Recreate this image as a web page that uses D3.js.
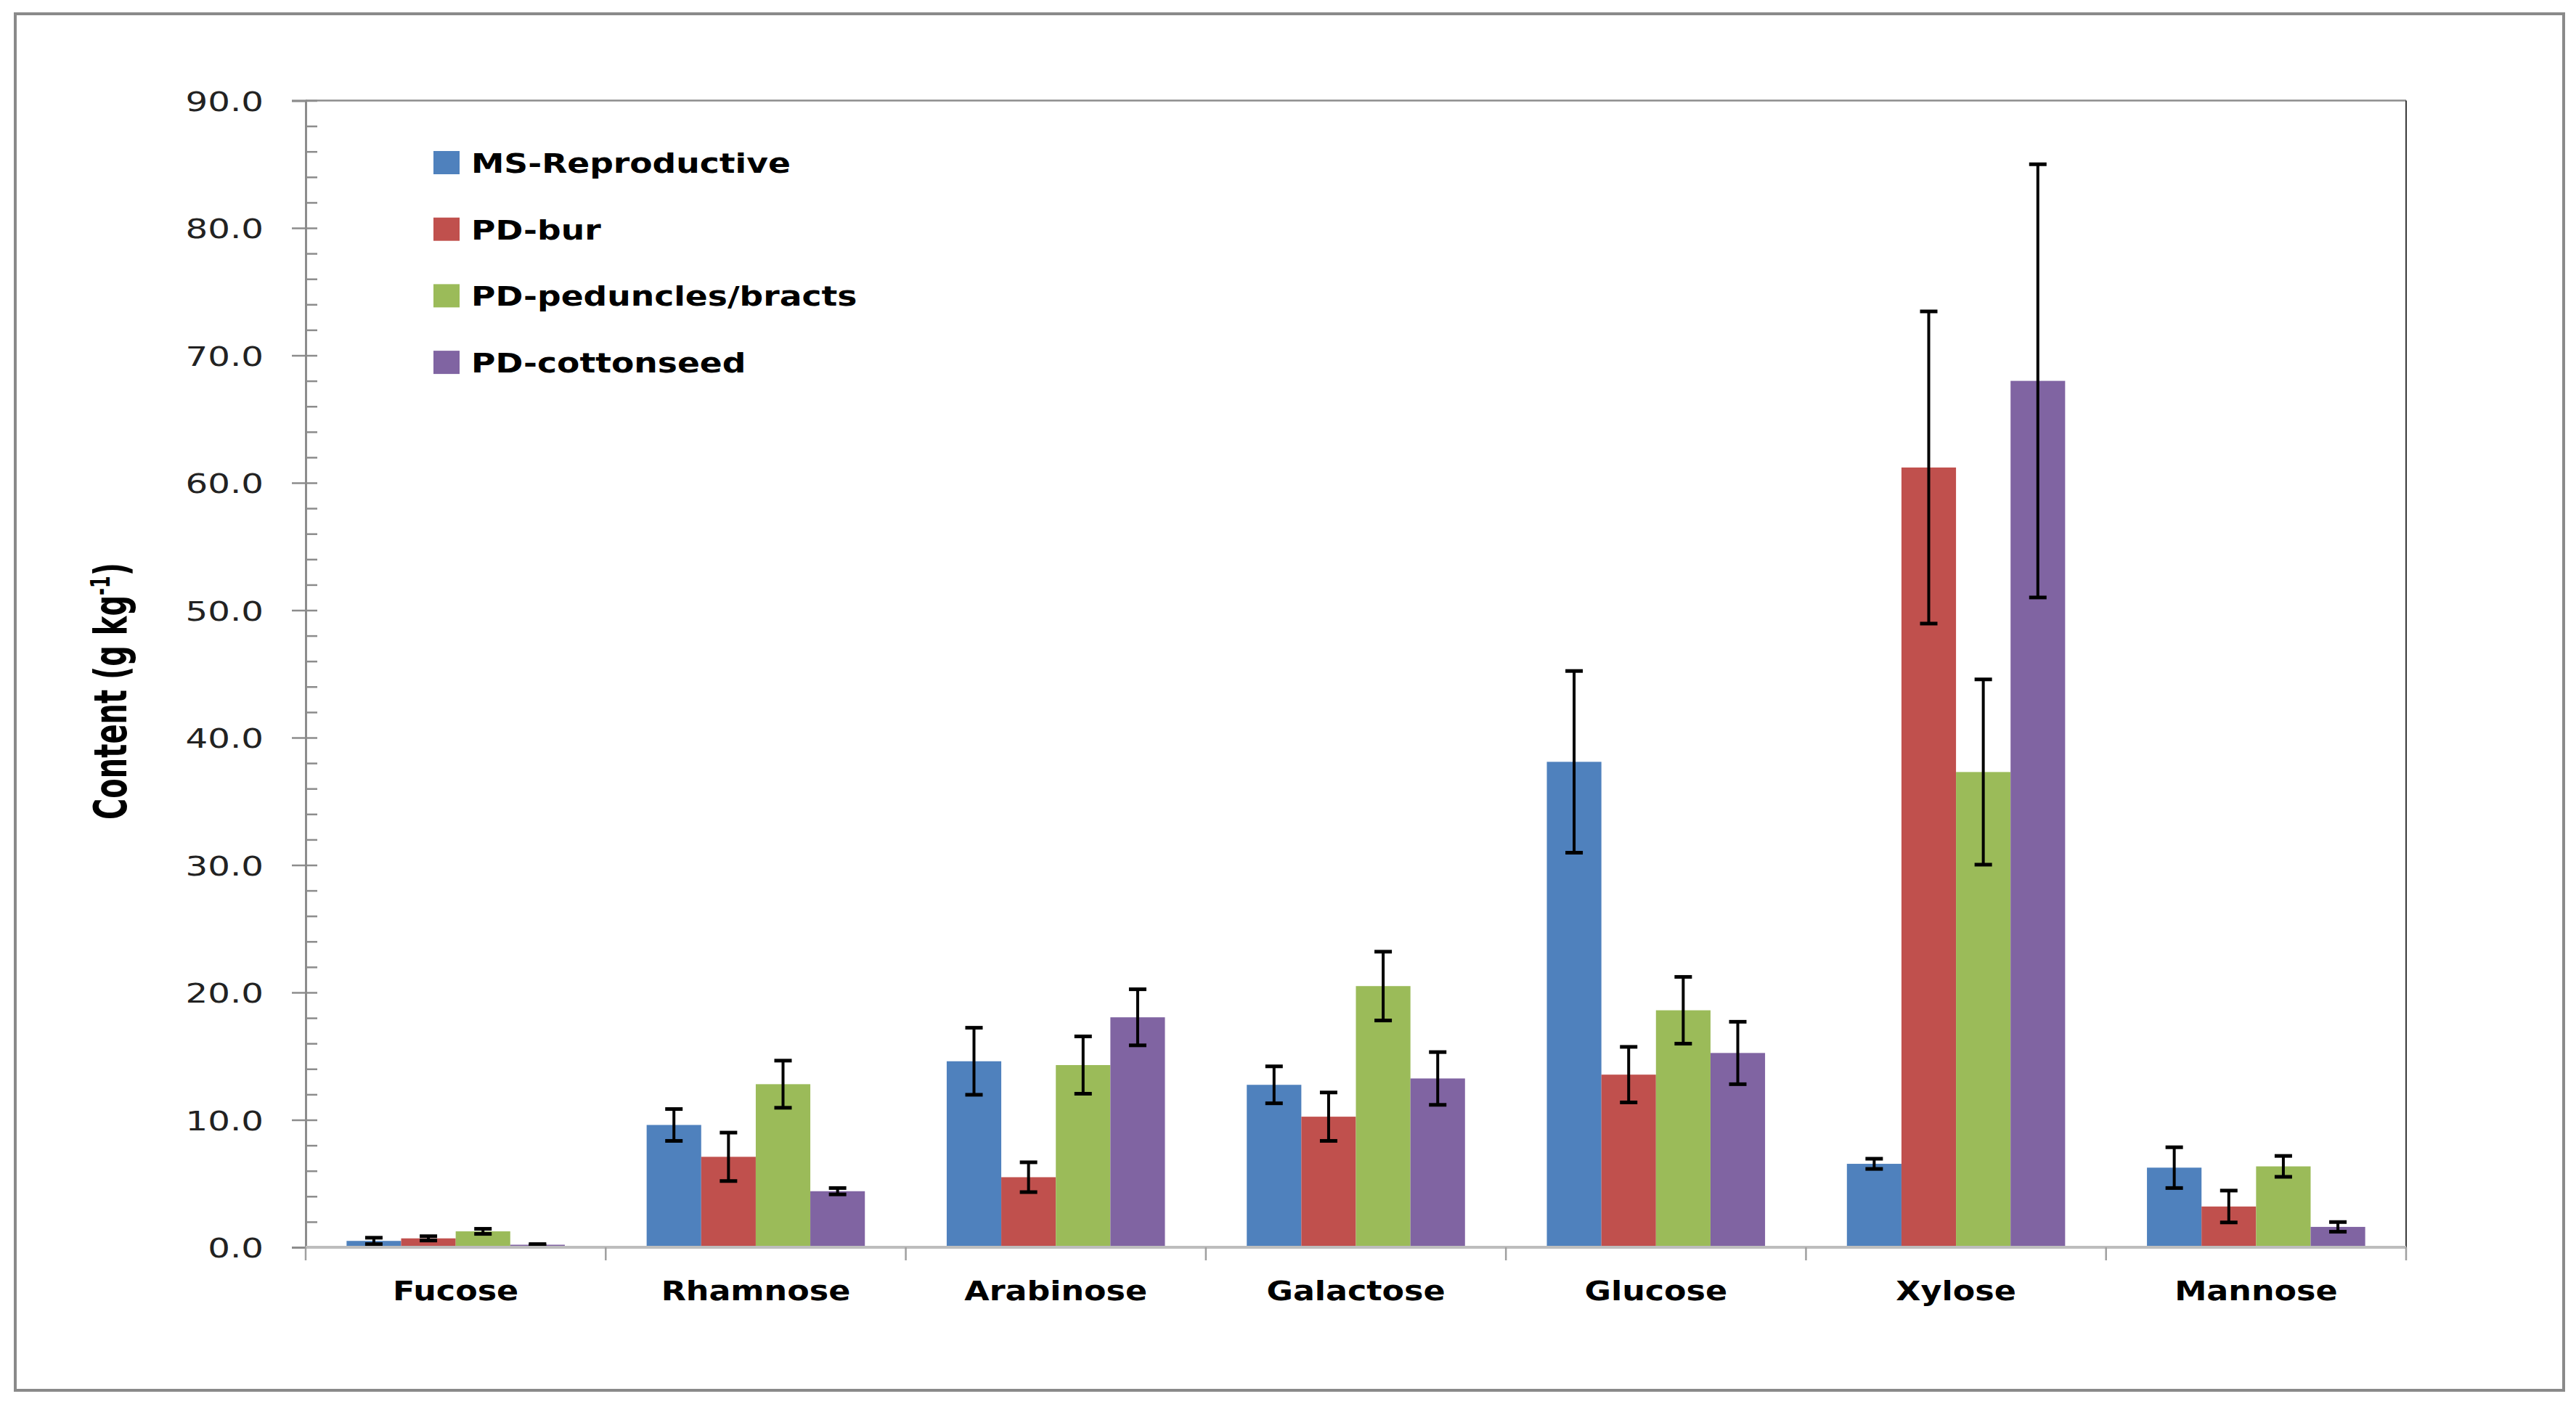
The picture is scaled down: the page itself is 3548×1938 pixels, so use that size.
<!DOCTYPE html>
<html>
<head>
<meta charset="utf-8">
<script src="https://cdn.jsdelivr.net/npm/d3@7"></script>
<style>
  body { margin: 0; background: #fff; }
  svg { display: block; }
</style>
</head>
<body>
<div id="chart"></div>
<script>
// sugar content by plant part
const categories = ["Fucose", "Rhamnose", "Arabinose", "Galactose", "Glucose", "Xylose", "Mannose"];
const seriesNames = ["MS-Reproductive", "PD-bur", "PD-peduncles/bracts", "PD-cottonseed"];
const seriesColors = ["#4F81BD", "#C0504D", "#9BBB59", "#8064A2"];

const msReproductive = [0.5, 9.6, 14.6, 12.75, 38.1, 6.55, 6.25];
const msReproductiveErr = [0.25, 1.25, 2.63, 1.45, 7.13, 0.4, 1.6];
const pdBur = [0.7, 7.1, 5.5, 10.25, 13.55, 61.2, 3.2];
const pdBurErr = [0.17, 1.9, 1.17, 1.9, 2.18, 12.25, 1.25];
const pdPeduncles = [1.25, 12.8, 14.3, 20.5, 18.6, 37.3, 6.35];
const pdPedunclesErr = [0.2, 1.85, 2.25, 2.7, 2.62, 7.27, 0.82];
const pdCottonseed = [0.2, 4.4, 18.05, 13.25, 15.25, 68.0, 1.6];
const pdCottonseedErr = [0.05, 0.25, 2.2, 2.07, 2.45, 17.0, 0.38];

const yTicks = d3.range(0, 91, 10);
const yMinorTicks = d3.range(0, 91, 2).filter(v => v % 10 !== 0);

const values = [msReproductive, pdBur, pdPeduncles, pdCottonseed];
const errors = [msReproductiveErr, pdBurErr, pdPedunclesErr, pdCottonseedErr];

const rows = [];
categories.forEach((c, i) => {
  seriesNames.forEach((s, j) => {
    rows.push({ category: c, series: s, value: values[j][i], err: errors[j][i], color: seriesColors[j] });
  });
});

const width = 3548;
const height = 1938;
const plot = { left: 421, right: 3314, top: 138.5, bottom: 1718 };
const SX = 1.2; // the picture's text is stretched sideways

const svg = d3.select('#chart')
  .append('svg')
  .attr('width', width)
  .attr('height', height)
  .style('background', '#fff');

// outer chart frame
svg.append('rect')
  .attr('x', 21).attr('y', 19)
  .attr('width', 3531 - 21).attr('height', 1915 - 19)
  .attr('fill', '#fff')
  .attr('stroke', '#8a8a8a')
  .attr('stroke-width', 4);

const x0 = d3.scaleBand()
  .domain(categories)
  .range([plot.left, plot.right])
  .paddingInner(0)
  .paddingOuter(0);

const x1 = d3.scaleBand()
  .domain(seriesNames)
  .range([0, x0.bandwidth()])
  .paddingInner(0)
  .paddingOuter(0.75);

const y = d3.scaleLinear()
  .domain([0, 90])
  .range([plot.bottom, plot.top]);

// plot area border (top and right)
svg.append('line')
  .attr('x1', plot.left).attr('x2', plot.right)
  .attr('y1', plot.top).attr('y2', plot.top)
  .attr('stroke', '#8c8c8c').attr('stroke-width', 2.5);
svg.append('line')
  .attr('x1', plot.right).attr('x2', plot.right)
  .attr('y1', plot.top).attr('y2', plot.bottom)
  .attr('stroke', '#3a3a3a').attr('stroke-width', 2);

// bars
svg.append('g')
  .selectAll('rect')
  .data(rows)
  .join('rect')
  .attr('x', d => x0(d.category) + x1(d.series))
  .attr('y', d => y(d.value))
  .attr('width', x1.bandwidth())
  .attr('height', d => y(0) - y(d.value))
  .attr('fill', d => d.color);

// error bars
const capW = 24;
const eb = svg.append('g').attr('class', 'errorbars');
eb.selectAll('line.stem')
  .data(rows)
  .join('line')
  .attr('class', 'stem')
  .attr('x1', d => x0(d.category) + x1(d.series) + x1.bandwidth() / 2)
  .attr('x2', d => x0(d.category) + x1(d.series) + x1.bandwidth() / 2)
  .attr('y1', d => y(d.value + d.err))
  .attr('y2', d => y(d.value - d.err))
  .attr('stroke', '#000')
  .attr('stroke-width', 4);
['top', 'bottom'].forEach(side => {
  eb.selectAll('line.cap-' + side)
    .data(rows)
    .join('line')
    .attr('class', 'cap-' + side)
    .attr('x1', d => x0(d.category) + x1(d.series) + x1.bandwidth() / 2 - capW / 2)
    .attr('x2', d => x0(d.category) + x1(d.series) + x1.bandwidth() / 2 + capW / 2)
    .attr('y1', d => y(side === 'top' ? d.value + d.err : d.value - d.err))
    .attr('y2', d => y(side === 'top' ? d.value + d.err : d.value - d.err))
    .attr('stroke', '#000')
    .attr('stroke-width', 5);
});

// y axis: major ticks cross the line, minor ticks inside
const yAxisG = svg.append('g')
  .attr('transform', `translate(${plot.left}, 0)`)
  .call(d3.axisLeft(y).tickValues(yTicks).tickFormat(d3.format('.1f')).tickSize(19).tickPadding(0));
yAxisG.select('.domain').attr('stroke', '#8c8c8c').attr('stroke-width', 3);
yAxisG.selectAll('.tick line').attr('x1', 16).attr('stroke', '#8c8c8c').attr('stroke-width', 2.5);
yAxisG.selectAll('.tick text')
  .attr('x', -(plot.left - 363) / 1.27)
  .attr('dy', '0.36em')
  .attr('transform', 'scale(1.27,1)')
  .style('font-family', 'DejaVu Sans')
  .style('font-size', '38px')
  .attr('fill', '#222');

const yMinor = svg.append('g')
  .attr('transform', `translate(${plot.left}, 0)`)
  .call(d3.axisLeft(y).tickValues(yMinorTicks).tickFormat('').tickSize(-16));
yMinor.select('.domain').remove();
yMinor.selectAll('.tick line').attr('stroke', '#8c8c8c').attr('stroke-width', 2.5);

// x axis line and category separators
svg.append('line')
  .attr('x1', plot.left).attr('x2', plot.right)
  .attr('y1', plot.bottom).attr('y2', plot.bottom)
  .attr('stroke', '#bdbdbd').attr('stroke-width', 4);

const bounds = d3.range(categories.length + 1).map(i => plot.left + i * x0.step());
svg.append('g')
  .selectAll('line')
  .data(bounds)
  .join('line')
  .attr('x1', d => d).attr('x2', d => d)
  .attr('y1', plot.bottom).attr('y2', plot.bottom + 18)
  .attr('stroke', '#a0a0a0').attr('stroke-width', 2.5);

const xAxisG = svg.append('g')
  .attr('transform', `translate(0, ${plot.bottom})`)
  .call(d3.axisBottom(x0).tickSize(0).tickPadding(0));
xAxisG.select('.domain').remove();
xAxisG.selectAll('.tick text')
  .attr('y', 73)
  .attr('dy', 0)
  .attr('transform', `scale(${SX},1)`)
  .style('font-family', 'DejaVu Sans')
  .style('font-weight', 'bold')
  .style('font-size', '37px')
  .attr('fill', '#000');

// y axis title
const title = svg.append('text')
  .attr('transform', `translate(174, 952) scale(1.55,1) rotate(-90)`)
  .attr('text-anchor', 'middle')
  .style('font-family', 'DejaVu Sans')
  .style('font-weight', 'bold')
  .style('font-size', '40px')
  .attr('fill', '#000');
title.append('tspan').text('Content (g kg');
title.append('tspan').attr('dy', -15).style('font-size', '24px').text('-1');
title.append('tspan').attr('dy', 15).text(')');

// legend
const legend = svg.append('g')
  .selectAll('g')
  .data(seriesNames)
  .join('g')
  .attr('transform', (d, i) => `translate(597, ${224 + i * 91.7})`);
legend.append('rect')
  .attr('x', 0).attr('y', -16)
  .attr('width', 36).attr('height', 32)
  .attr('fill', (d, i) => seriesColors[i]);
legend.append('text')
  .attr('transform', `translate(52, 14) scale(${SX},1)`)
  .style('font-family', 'DejaVu Sans')
  .style('font-weight', 'bold')
  .style('font-size', '38px')
  .attr('fill', '#000')
  .text(d => d);
</script>
</body>
</html>
